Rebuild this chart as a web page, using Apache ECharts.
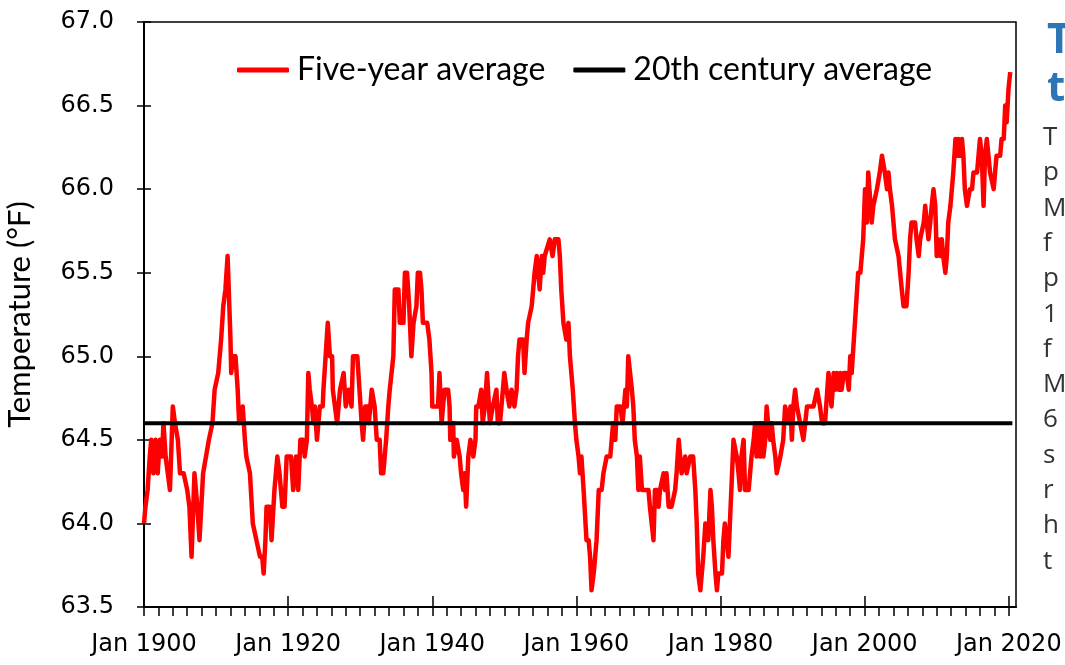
<!DOCTYPE html>
<html>
<head>
<meta charset="utf-8">
<title>Five-year average temperature</title>
<script src="https://cdn.jsdelivr.net/npm/echarts@6/dist/echarts.min.js"></script>
<style>
  html, body { margin: 0; padding: 0; background: #fff; }
  #chart { width: 1065px; height: 665px; }
</style>
</head>
<body>
<div id="chart"></div>
<script>
// five-year average (decimal year -> °F)
const years = [
  1900.0, 1900.2, 1900.5, 1900.8, 1901.0, 1901.3, 1901.6, 1901.9, 1902.2, 1902.5, 1902.7, 1903.0, 1903.3, 1903.6,
  1904.0, 1904.3, 1904.7, 1905.0, 1905.5, 1906.0, 1906.3, 1906.6, 1907.0, 1907.4, 1907.7, 1908.2, 1908.6, 1909.0,
  1909.5, 1909.8, 1910.3, 1910.7, 1911.0, 1911.3, 1911.6, 1911.8, 1912.0, 1912.1, 1912.4, 1912.7, 1913.0, 1913.2,
  1913.7, 1914.0, 1914.2, 1914.7, 1915.1, 1915.6, 1916.1, 1916.4, 1916.6, 1916.85, 1917.0, 1917.45, 1917.7, 1918.1,
  1918.5, 1918.8, 1919.2, 1919.5,
  1919.8, 1920.4, 1920.7, 1921.1, 1921.4, 1921.7, 1922.1, 1922.3, 1922.6, 1922.8, 1923.0, 1923.3, 1923.5, 1923.7,
  1924.0, 1924.4, 1924.8, 1924.9, 1925.2, 1925.5, 1925.8, 1926.1, 1926.2, 1926.5, 1926.8, 1927.2, 1927.7, 1928.0,
  1928.4, 1928.8, 1929.0, 1929.6, 1929.9, 1930.2, 1930.4, 1930.7, 1931.1, 1931.2, 1931.6, 1931.8, 1932.0, 1932.3,
  1932.7, 1932.9, 1933.2, 1933.4, 1933.6, 1933.9, 1934.1, 1934.6, 1934.8, 1935.3, 1935.5, 1936.0, 1936.2, 1936.5,
  1936.8, 1937.1, 1937.4, 1937.8, 1938.0, 1938.3, 1938.5, 1938.7, 1939.3, 1939.6,
  1939.9, 1940.0, 1940.8, 1941.0, 1941.3, 1941.5, 1941.7, 1942.2, 1942.4, 1942.5, 1942.9, 1943.0, 1943.4, 1943.8,
  1944.0, 1944.3, 1944.5, 1944.7, 1945.0, 1945.3, 1945.7, 1946.0, 1946.1, 1946.4, 1946.8, 1947.0, 1947.3, 1947.6,
  1948.0, 1948.4, 1948.9, 1949.1, 1949.4, 1949.6, 1950.0, 1950.3, 1950.7, 1951.0, 1951.4, 1951.7, 1951.9, 1952.1,
  1952.6, 1952.8, 1953.1, 1953.3, 1953.8, 1954.0, 1954.2, 1954.5, 1954.9, 1955.2, 1955.4, 1955.6, 1955.8, 1956.3,
  1956.7, 1957.0, 1957.5, 1957.7, 1957.9, 1958.2, 1958.4, 1958.6, 1958.9, 1959.1, 1959.3, 1959.5, 1959.8,
  1960.0, 1960.3, 1960.5, 1960.7, 1961.0, 1961.2, 1961.4, 1961.7, 1961.9, 1962.1, 1962.4, 1962.6, 1962.8, 1963.1,
  1963.5, 1963.75, 1964.0, 1964.2, 1964.7, 1964.9, 1965.1, 1965.4, 1965.6, 1966.1, 1966.4, 1966.8, 1967.0, 1967.2,
  1967.45, 1967.7, 1967.9, 1968.1, 1968.4, 1968.6, 1968.8, 1969.1, 1969.5, 1970.0, 1970.2, 1970.7, 1970.9, 1971.2,
  1971.4, 1971.6, 1972.1, 1972.3, 1972.5, 1972.8, 1973.2, 1973.7, 1973.9, 1974.2, 1974.4, 1974.6, 1975.1, 1975.3,
  1975.8, 1976.2, 1976.5, 1976.7, 1976.9, 1977.2, 1977.4, 1977.6, 1977.9, 1978.1, 1978.3, 1978.6, 1978.8, 1979.0,
  1979.3, 1979.5, 1979.7,
  1979.9, 1980.2, 1980.4, 1980.6, 1981.1, 1981.3, 1981.6, 1981.8, 1982.0, 1982.25, 1982.5, 1982.7, 1982.9, 1983.2,
  1983.4, 1983.9, 1984.1, 1984.3, 1984.6, 1984.8, 1985.0, 1985.3, 1985.5, 1985.7, 1985.95, 1986.2, 1986.4, 1986.6,
  1986.9, 1987.1, 1987.3, 1987.6, 1987.8, 1988.0, 1988.3, 1988.5, 1988.7, 1988.96, 1989.2, 1989.4, 1989.7, 1989.9,
  1990.1, 1990.35, 1990.6, 1990.8, 1991.05, 1991.3, 1991.5, 1991.7, 1992.0, 1992.4, 1992.9, 1993.4, 1993.6, 1993.8,
  1994.1, 1994.5, 1994.98, 1995.2, 1995.4, 1995.7, 1995.9, 1996.1, 1996.4, 1996.6, 1996.8, 1997.1, 1997.5, 1997.8,
  1998.0, 1998.2, 1998.5, 1998.8, 1999.1,
  1999.4, 1999.6, 1999.8, 2000.05, 2000.3, 2000.5, 2000.75, 2000.98, 2001.2, 2001.45, 2001.7, 2001.9, 2002.1, 2002.4,
  2002.6, 2002.8, 2003.1, 2003.3, 2003.5, 2003.8, 2004.0, 2004.2, 2004.45, 2004.7, 2004.9, 2005.15, 2005.4, 2005.8,
  2006.1, 2006.3, 2006.5, 2007.0, 2007.2, 2007.5, 2007.7, 2007.9, 2008.2, 2008.4, 2008.6, 2008.85, 2009.1, 2009.3,
  2009.55, 2009.8, 2010.0, 2010.2, 2010.5, 2010.7, 2010.9, 2011.2, 2011.4, 2011.6, 2011.9, 2012.1, 2012.3, 2012.6,
  2012.8, 2013.0, 2013.25, 2013.5, 2013.7, 2013.9, 2014.2, 2014.4, 2014.6, 2014.9, 2015.1, 2015.6, 2015.8, 2016.0,
  2016.25, 2016.5, 2016.7, 2016.95, 2017.2, 2017.4, 2017.6, 2017.9, 2018.1, 2018.3, 2018.8, 2019.0, 2019.3, 2019.5,
  2019.7, 2019.96, 2020.2
]
const temps = [
  64.0, 64.1, 64.2, 64.4, 64.5, 64.3, 64.5, 64.3, 64.5, 64.4, 64.6, 64.4, 64.3, 64.2,
  64.7, 64.6, 64.5, 64.3, 64.3, 64.2, 64.1, 63.8, 64.3, 64.1, 63.9, 64.3, 64.4, 64.5,
  64.6, 64.8, 64.9, 65.1, 65.3, 65.4, 65.6, 65.6, 65.1, 64.9, 65.0, 65.0, 64.8, 64.6,
  64.7, 64.5, 64.4, 64.3, 64.0, 63.9, 63.8, 63.8, 63.7, 63.9, 64.1, 64.1, 63.9, 64.2,
  64.4, 64.3, 64.1, 64.1,
  64.4, 64.4, 64.2, 64.4, 64.2, 64.5, 64.5, 64.4, 64.5, 64.9, 64.8, 64.7, 64.6, 64.7,
  64.5, 64.7, 64.7, 64.8, 65.0, 65.2, 65.0, 65.0, 64.8, 64.7, 64.6, 64.8, 64.9, 64.7,
  64.8, 64.7, 65.0, 65.0, 64.8, 64.6, 64.5, 64.7, 64.7, 64.6, 64.8, 64.8, 64.7, 64.5,
  64.5, 64.3, 64.3, 64.4, 64.5, 64.7, 64.8, 65.0, 65.4, 65.4, 65.2, 65.2, 65.5, 65.5,
  65.3, 65.0, 65.2, 65.3, 65.5, 65.5, 65.4, 65.2, 65.2, 65.1,
  64.9, 64.7, 64.7, 64.9, 64.6, 64.7, 64.8, 64.8, 64.7, 64.5, 64.6, 64.4, 64.5, 64.4,
  64.3, 64.2, 64.3, 64.1, 64.4, 64.5, 64.4, 64.5, 64.7, 64.7, 64.8, 64.6, 64.7, 64.9,
  64.6, 64.7, 64.8, 64.6, 64.6, 64.7, 64.9, 64.8, 64.7, 64.8, 64.7, 64.8, 65.0, 65.1,
  65.1, 64.9, 65.1, 65.2, 65.3, 65.3, 65.5, 65.6, 65.4, 65.6, 65.5, 65.6, 65.6, 65.7,
  65.6, 65.7, 65.7, 65.6, 65.4, 65.2, 65.2, 65.1, 65.2, 65.0, 65.0, 64.8, 64.6,
  64.5, 64.4, 64.3, 64.4, 64.2, 64.2, 63.9, 63.9, 63.8, 63.6, 63.7, 63.8, 63.9, 64.2,
  64.2, 64.3, 64.3, 64.4, 64.4, 64.5, 64.6, 64.5, 64.7, 64.7, 64.6, 64.8, 64.7, 65.0,
  64.9, 64.8, 64.7, 64.5, 64.4, 64.2, 64.4, 64.2, 64.2, 64.2, 64.1, 63.9, 64.2, 64.2,
  64.1, 64.2, 64.3, 64.2, 64.3, 64.1, 64.1, 64.2, 64.3, 64.5, 64.4, 64.3, 64.4, 64.3,
  64.4, 64.4, 64.2, 64.0, 63.7, 63.6, 63.7, 63.8, 64.0, 64.0, 63.9, 64.2, 64.1, 63.9,
  63.7, 63.6, 63.7,
  63.7, 63.7, 63.9, 64.0, 63.8, 64.0, 64.3, 64.5, 64.5, 64.4, 64.3, 64.2, 64.4, 64.5,
  64.2, 64.2, 64.3, 64.4, 64.5, 64.6, 64.4, 64.6, 64.4, 64.6, 64.4, 64.5, 64.7, 64.6,
  64.5, 64.6, 64.5, 64.4, 64.3, 64.3, 64.4, 64.4, 64.5, 64.7, 64.7, 64.6, 64.7, 64.5,
  64.7, 64.8, 64.7, 64.7, 64.6, 64.6, 64.5, 64.5, 64.7, 64.7, 64.7, 64.8, 64.8, 64.7,
  64.6, 64.6, 64.9, 64.8, 64.7, 64.9, 64.8, 64.9, 64.8, 64.9, 64.8, 64.9, 64.9, 64.8,
  65.0, 64.9, 65.1, 65.3, 65.5,
  65.5, 65.6, 65.7, 66.0, 65.8, 66.1, 66.1, 65.8, 65.9, 65.9, 66.0, 66.0, 66.1, 66.2,
  66.2, 66.1, 66.0, 66.1, 66.0, 65.9, 65.8, 65.7, 65.7, 65.6, 65.6, 65.4, 65.3, 65.3,
  65.5, 65.7, 65.8, 65.8, 65.7, 65.6, 65.7, 65.7, 65.8, 65.9, 65.9, 65.7, 65.8, 65.9,
  66.0, 65.9, 65.6, 65.7, 65.6, 65.7, 65.6, 65.5, 65.6, 65.8, 65.9, 65.9, 66.1, 66.3,
  66.2, 66.3, 66.2, 66.3, 66.2, 66.0, 65.9, 65.9, 66.0, 66.0, 66.1, 66.1, 66.2, 66.3,
  66.2, 65.9, 66.2, 66.3, 66.3, 66.1, 66.1, 66.0, 66.1, 66.2, 66.2, 66.3, 66.3, 66.5,
  66.4, 66.6, 66.7
]
const centuryAvg = 64.6
const avgSpan = [1900, 2020.5]

const majorYears = [1900, 1920, 1940, 1960, 1980, 2000, 2020]
const minorYears = []
for (let y = 1900; y <= 2020; y += 2) minorYears.push(y)

// text block to the right of the chart, cut off by the edge
const sideTitle = ['T', 't']
const sideLines = ['T', 'p', 'M', 'f', 'p', '1', 'f', 'M', '6', 's', 'r', 'h', 't']

const tickFont = 'DejaVu Sans'
const textFont = 'Lato'

const myChart = echarts.init(document.getElementById('chart'))
myChart.setOption({
  animation: false,
  backgroundColor: '#fff',
  grid: {
    left: 144, right: 49, top: 22, bottom: 58,
    outerBoundsMode: 'none',
    show: true, borderColor: '#000', borderWidth: 1.5
  },
  legend: {
    left: 232, top: 49,
    itemWidth: 52, itemHeight: 5, itemGap: 28,
    icon: 'roundRect',
    textStyle: { fontFamily: textFont, fontSize: 32, color: '#000', padding: [0, 0, 0, 3] },
    data: ['Five-year average', '20th century average']
  },
  xAxis: [
    {
      type: 'value', min: 1900, max: 2021,
      axisLine: { lineStyle: { color: '#000', width: 2 } },
      axisTick: { customValues: minorYears, length: 9, lineStyle: { color: '#000', width: 1.5 } },
      axisLabel: {
        customValues: majorYears, margin: 26,
        fontFamily: tickFont, fontSize: 24, color: '#000',
        formatter: v => 'Jan ' + v
      },
      splitLine: { show: false }
    },
    {
      type: 'value', min: 1900, max: 2021, position: 'bottom',
      axisLine: { show: false },
      axisTick: { customValues: majorYears, inside: true, length: 11, lineStyle: { color: '#000', width: 1.5 } },
      axisLabel: { show: false },
      splitLine: { show: false }
    }
  ],
  yAxis: [
    {
      type: 'value', min: 63.5, max: 67, interval: 0.5,
      name: 'Temperature (°F)', nameLocation: 'middle', nameGap: 109,
      nameTextStyle: { fontFamily: textFont, fontSize: 31, color: '#000' },
      axisLine: { show: true, lineStyle: { color: '#000', width: 2 } },
      axisTick: { length: 7, lineStyle: { color: '#000', width: 1.5 } },
      axisLabel: {
        margin: 30, fontFamily: tickFont, fontSize: 24, color: '#000',
        formatter: v => v.toFixed(1)
      },
      splitLine: { show: false }
    },
    {
      type: 'value', min: 63.5, max: 67, interval: 0.5, position: 'left',
      axisLine: { show: false },
      axisTick: { show: true, inside: true, length: 7, lineStyle: { color: '#000', width: 1.5 } },
      axisLabel: { show: false },
      splitLine: { show: false }
    }
  ],
  series: [
    {
      name: 'Five-year average',
      type: 'line',
      showSymbol: false,
      color: '#ff0000',
      lineStyle: { color: '#ff0000', width: 4.5, join: 'round' },
      data: years.map((y, i) => [y, temps[i]])
    },
    {
      name: '20th century average',
      type: 'line',
      showSymbol: false,
      color: '#000',
      lineStyle: { color: '#000', width: 4 },
      data: avgSpan.map(y => [y, centuryAvg])
    }
  ],
  graphic: [
    {
      type: 'text', left: 1047, top: 17,
      style: {
        text: sideTitle.join('\n'), fill: '#2e75b6',
        font: 'bold 42px "Open Sans"', lineHeight: 48
      }
    },
    {
      type: 'text', left: 1043, top: 120,
      style: {
        text: sideLines.join('\n'), fill: '#333',
        font: '26px "Open Sans"', lineHeight: 35.3
      }
    }
  ]
})
window.addEventListener('resize', function() {
  myChart.resize()
})
</script>
</body>
</html>
